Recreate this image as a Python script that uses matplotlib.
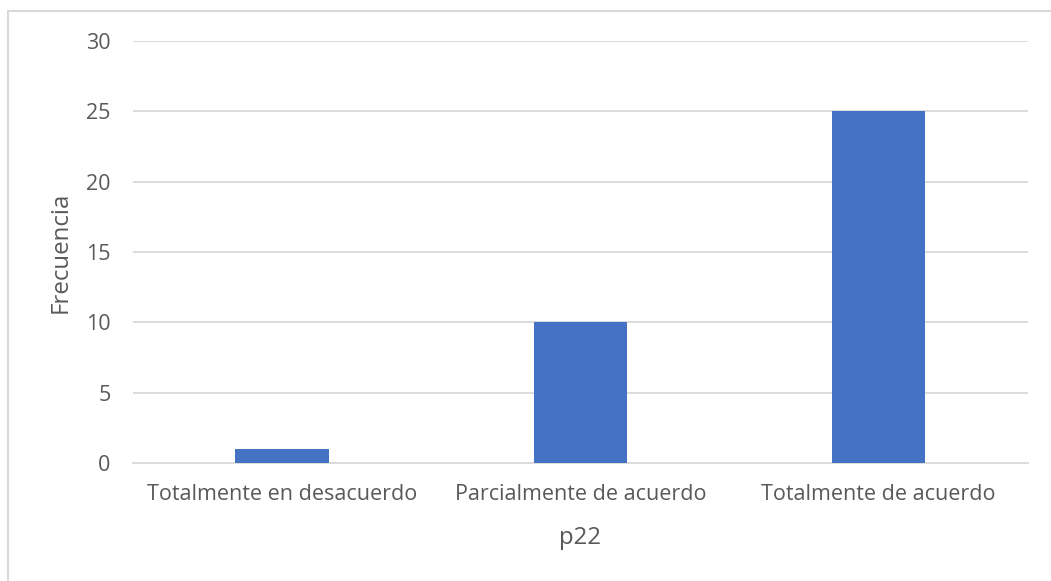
import matplotlib.pyplot as plt
from matplotlib.patches import Rectangle

categories = ["Totalmente en desacuerdo", "Parcialmente de acuerdo", "Totalmente de acuerdo"]
freq = [1, 10, 25]
yticks = [0, 5, 10, 15, 20, 25, 30]

plt.rcParams['font.family'] = ['Open Sans', 'DejaVu Sans']
text_color = "#595959"

fig = plt.figure(figsize=(10.51, 5.81), dpi=100)
ax = fig.add_axes([0.1265, 0.2031, 0.8515, 0.7263])

x = range(len(categories))
ax.bar(x, freq, width=0.313, color="#4472C4", zorder=3)

ax.set_xlim(-0.5, 2.5)
ax.set_ylim(0, 30)
ax.set_yticks(yticks)
ax.set_xticks(list(x))
ax.set_xticklabels(categories)
ax.yaxis.grid(True, color="#D9D9D9", linewidth=1.3, zorder=0)
ax.tick_params(axis="both", length=0, labelsize=15.5, labelcolor=text_color)
ax.tick_params(axis="y", pad=16)
ax.tick_params(axis="x", pad=15)
for s in ["top", "right", "left"]:
    ax.spines[s].set_visible(False)
ax.spines["bottom"].set_color("#D9D9D9")
ax.spines["bottom"].set_linewidth(1.3)

ax.set_ylabel("Frecuencia", fontsize=17.3, color=text_color, labelpad=10)
ax.set_xlabel("p22", fontsize=17.3, color=text_color, labelpad=15)

# chart area border (only left and top edges visible)
fig.patches.append(Rectangle((8 / 1051, -0.1), 1.2, 1 - 11 / 581 + 0.1,
                             transform=fig.transFigure, fill=False,
                             edgecolor="#D9D9D9", linewidth=1.5))

fig.savefig("out.png", dpi=100)
